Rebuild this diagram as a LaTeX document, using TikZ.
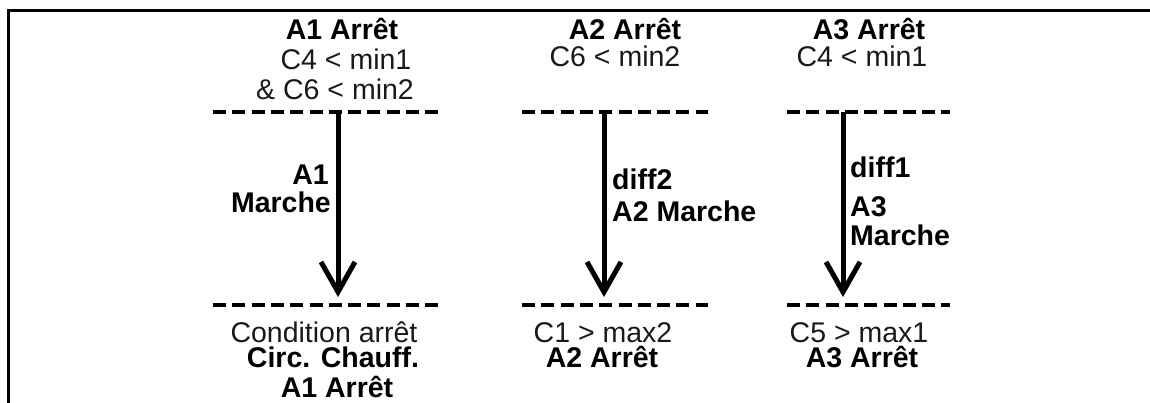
\documentclass[tikz,border=0pt]{standalone}
\usepackage{fontspec}
\setmainfont{Liberation Sans}
\usetikzlibrary{arrows.meta}
\begin{document}
\begin{tikzpicture}[x=1pt,y=-1pt,
  txt/.style={inner sep=0pt, font=\fontsize{28.5}{30}\selectfont, text=black!90},
  bt/.style={inner sep=0pt, font=\fontsize{28.5}{30}\selectfont\bfseries, text=black},
  sepline/.style={line width=4.5pt, dash pattern=on 13pt off 6.3pt},
  flow/.style={line width=5pt, -{Straight Barb[length=30pt,width=34pt,line width=5pt]}},
  framel/.style={line width=3pt}]
\useasboundingbox (0,0) rectangle (1150,403);
% frame
\coordinate (fr) at (1150,10.5);
\coordinate (fc) at (8,10.5);
\coordinate (fb) at (8,403);
\draw[framel] (fr) -- (fc) -- (fb);

% separator lines
\coordinate (t1l) at (213,112); \coordinate (t1r) at (443,112);
\coordinate (b1l) at (213,305); \coordinate (b1r) at (443,305);
\coordinate (t2l) at (522,112); \coordinate (t2r) at (708,112);
\coordinate (b2l) at (522,305); \coordinate (b2r) at (708,305);
\coordinate (t3l) at (787,112); \coordinate (t3r) at (950,112);
\coordinate (b3l) at (787,305); \coordinate (b3r) at (950,305);
\foreach \a/\b in {t1l/t1r,b1l/b1r,t2l/t2r,b2l/b2r,t3l/t3r,b3l/b3r}
  \draw[sepline] (\a) -- (\b);

% arrows
\coordinate (s1) at (338,112); \coordinate (e1) at (338,297);
\coordinate (s2) at (604,112); \coordinate (e2) at (604,297);
\coordinate (s3) at (843,112); \coordinate (e3) at (843,297);
\draw[flow] (s1) -- (e1);
\draw[flow] (s2) -- (e2);
\draw[flow] (s3) -- (e3);

% column 1
\node[bt, anchor=base] (c1a) at (342,40) {A1 Arrêt};
\node[txt, anchor=base] (c1b) at (346,70) {C4 < min1};
\node[txt, anchor=base] (c1c) at (335,100) {\& C6 < min2};
\node[bt, anchor=base east] (c1d) at (329,185) {A1};
\node[bt, anchor=base east] (c1e) at (331,213) {Marche};
\node[txt, anchor=base] (c1f) at (324,342) {Condition arrêt};
\node[bt, anchor=base] (c1g) at (333,367) {Circ. Chauff.};
\node[bt, anchor=base] (c1h) at (337,397) {A1 Arrêt};

% column 2
\node[bt, anchor=base] (c2a) at (625,40) {A2 Arrêt};
\node[txt, anchor=base] (c2b) at (615,67) {C6 < min2};
\node[bt, anchor=base west] (c2c) at (612,190) {diff2};
\node[bt, anchor=base west] (c2d) at (612,222) {A2 Marche};
\node[txt, anchor=base] (c2e) at (603,342) {C1 > max2};
\node[bt, anchor=base] (c2f) at (602,367) {A2 Arrêt};

% column 3
\node[bt, anchor=base] (c3a) at (869,40) {A3 Arrêt};
\node[txt, anchor=base] (c3b) at (862,67) {C4 < min1};
\node[bt, anchor=base west] (c3c) at (850,178) {diff1};
\node[bt, anchor=base west] (c3d) at (850,217) {A3};
\node[bt, anchor=base west] (c3e) at (850,245) {Marche};
\node[txt, anchor=base] (c3f) at (859,342) {C5 > max1};
\node[bt, anchor=base] (c3g) at (862,367) {A3 Arrêt};
\end{tikzpicture}
\end{document}
